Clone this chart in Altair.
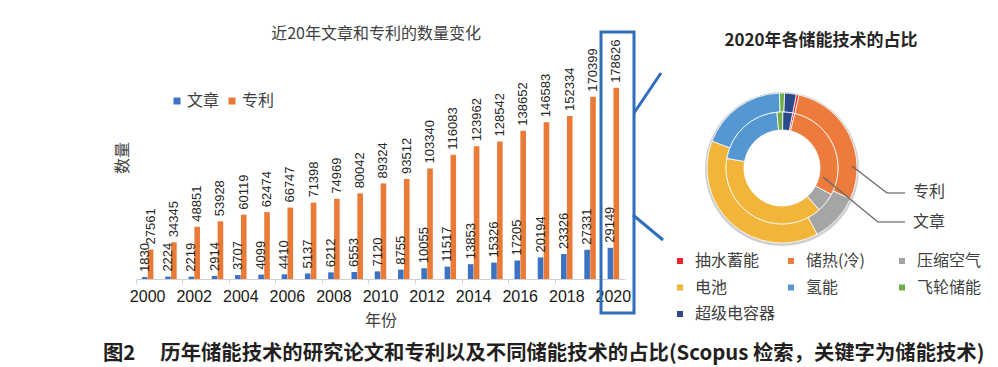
import math
import altair as alt
import pandas as pd

# ---------------- data ----------------
years = list(range(2000, 2021))
articles = [1830, 2224, 2219, 2914, 3707, 4099, 4410, 5137, 6212, 6553, 7120,
            8755, 10055, 11517, 13853, 15326, 17205, 20194, 23326, 27331, 29149]
patents = [27561, 34345, 48851, 53928, 60119, 62474, 66747, 71398, 74969, 80042, 89324,
           93512, 103340, 116083, 123962, 128542, 138652, 146583, 152334, 170399, 178626]
series_names = ["文章", "专利"]
series_colors = ["#3b73c2", "#eb7a37"]

techs = ["抽水蓄能", "储热(冷)", "压缩空气", "电池", "氢能", "飞轮储能", "超级电容器"]
tech_colors = ["#e8262a", "#ec7b3d", "#a5a5a5", "#f2b53a", "#5497d2", "#6fae47", "#2b4a8a"]
patent_share = [0.6, 28.1, 10.5, 38.6, 18.6, 1.1, 2.5]   # outer ring (专利), %
article_share = [0.6, 29.2, 5.6, 39.3, 20.8, 1.7, 2.8]   # inner ring (文章), %

left_title = "近20年文章和专利的数量变化"
right_title = "2020年各储能技术的占比"
caption = "图2　 历年储能技术的研究论文和专利以及不同储能技术的占比(Scopus 检索，关键字为储能技术)"

CJK = "Noto Sans CJK SC"
LAT = "Liberation Sans"

bar_df = pd.DataFrame({
    "year": years * 2,
    "series": [series_names[0]] * len(years) + [series_names[1]] * len(years),
    "value": articles + patents,
})
patent_df = pd.DataFrame({"tech": techs, "share": patent_share, "idx": list(range(len(techs)))})
article_df = pd.DataFrame({"tech": techs, "share": article_share, "idx": list(range(len(techs)))})
one = pd.DataFrame({"t": [""]})

# ---------------- bar chart ----------------
x_enc = alt.X("year:O",
              scale=alt.Scale(range=[128, 617], paddingInner=0, paddingOuter=0),
              axis=alt.Axis(values=years[::2], bandPosition=0, labelAngle=0,
                            labelFont=LAT, labelFontSize=16, labelColor="#1a1a1a",
                            labelPadding=5, tickSize=4, tickColor="#d0d0d0",
                            domainColor="#d0d0d0", grid=False,
                            title="年份", titleFont=CJK, titleFontSize=16,
                            titleFontWeight="normal", titleColor="#404040",
                            titlePadding=8))
xo_enc = alt.XOffset("series:N", sort=series_names,
                     scale=alt.Scale(paddingOuter=1, paddingInner=0.05))
y_enc = alt.Y("value:Q", scale=alt.Scale(domain=[0, 200000], range=[271, 57]), axis=None)

bars = alt.Chart(bar_df).mark_bar().encode(
    x=x_enc, xOffset=xo_enc, y=y_enc,
    color=alt.Color("series:N", sort=series_names,
                    scale=alt.Scale(domain=series_names, range=series_colors),
                    legend=alt.Legend(orient="none", legendX=161, legendY=85,
                                      direction="horizontal", symbolType="square",
                                      symbolSize=49, symbolStrokeWidth=0,
                                      labelFont=CJK, labelFontSize=16,
                                      labelColor="#404040", labelOffset=2,
                                      columnPadding=4, title=None, padding=0)),
)

bar_labels = alt.Chart(bar_df).mark_text(
    angle=270, align="left", baseline="middle", dx=5,
    font=LAT, fontSize=13, color="#262626"
).encode(x=x_enc, xOffset=xo_enc, y=y_enc, text=alt.Text("value:Q", format="d"))


def label(text, x, y, size=16, weight="normal", color="#404040", angle=0, align="center", font=CJK):
    return alt.Chart(pd.DataFrame({"t": [text]})).mark_text(
        font=font, fontSize=size, fontWeight=weight, color=color, angle=angle,
        align=align, baseline="middle"
    ).encode(x=alt.value(x), y=alt.value(y), text="t:N")


def seg(x1, y1, x2, y2, color, w):
    return alt.Chart(one).mark_rule(color=color, strokeWidth=w).encode(
        x=alt.value(x1), y=alt.value(y1), x2=alt.value(x2), y2=alt.value(y2))


box = alt.Chart(one).mark_rect(fillOpacity=0, stroke="#2f6ebd", strokeWidth=3).encode(
    x=alt.value(593), x2=alt.value(626), y=alt.value(24), y2=alt.value(305))

# ---------------- donut ----------------
CX, CY = 774, 160
start = math.radians(11)
theta_scale = alt.Scale(domain=[0, 100], range=[start, start + 2 * math.pi])
tech_scale = alt.Scale(domain=techs, range=tech_colors)

shadow = alt.Chart(one).mark_arc(radius=77, radius2=55, theta=0, theta2=2 * math.pi,
                                 color="#cfcfcf").encode(x=alt.value(CX), y=alt.value(CY + 1))

outer = alt.Chart(patent_df).mark_arc(radius=75, radius2=56, stroke="white", strokeWidth=0.8).encode(
    theta=alt.Theta("share:Q", stack=True, scale=theta_scale),
    color=alt.Color("tech:N", scale=tech_scale,
                    legend=alt.Legend(orient="none", legendX=664, legendY=245,
                                      direction="horizontal", columns=3, gridAlign="all",
                                      symbolType="square", symbolSize=36, symbolStrokeWidth=0,
                                      labelFont=CJK, labelFontSize=16, labelColor="#404040",
                                      labelOffset=7, columnPadding=7, rowPadding=10.5,
                                      labelLimit=200, title=None, padding=0)),
    order=alt.Order("idx:Q"),
    x=alt.value(CX), y=alt.value(CY),
)
inner = alt.Chart(article_df).mark_arc(radius=56, radius2=38, stroke="white", strokeWidth=0.8).encode(
    theta=alt.Theta("share:Q", stack=True, scale=theta_scale),
    color=alt.Color("tech:N", scale=tech_scale, legend=None),
    order=alt.Order("idx:Q"),
    x=alt.value(CX), y=alt.value(CY),
)

chart = alt.layer(
    bars, bar_labels, box,
    seg(626, 105, 653, 65, "#2f6ebd", 3),
    seg(625, 207, 655, 232, "#2f6ebd", 3),
    shadow, outer, inner,
    seg(844, 158, 879, 185, "#666666", 1.2), seg(879, 185, 897, 185, "#666666", 1.2),
    seg(815, 169, 870, 214, "#666666", 1.2), seg(870, 214, 897, 214, "#666666", 1.2),
    label(left_title, 368, 26),
    label("数量", 115, 150, angle=270),
    label(right_title, 813, 33, size=17, weight="bold", color="#262626"),
    label("专利", 905, 184, align="left"),
    label("文章", 905, 214, align="left"),
    label(caption, 95, 346, size=20.35, weight="bold", color="#231f20", align="left"),
).resolve_scale(color="independent").properties(
    width=982, height=271,
    autosize=alt.AutoSizeParams(type="none"),
    padding={"left": 0, "top": 0, "right": 0, "bottom": 87},
).configure_view(stroke=None)

chart.save("out.html", embed_options={"renderer": "svg", "actions": False})
